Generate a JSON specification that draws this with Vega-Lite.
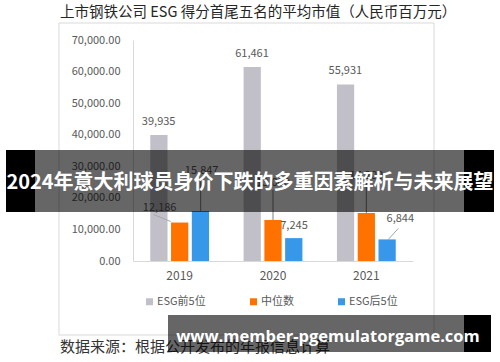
{
  "$schema": "https://vega.github.io/schema/vega-lite/v6.json",
  "autosize": "none",
  "width": 280,
  "height": 221,
  "padding": {"left": 133, "top": 40, "right": 87, "bottom": 101},
  "background": "white",
  "config": {"view": {"stroke": null}, "font": "Noto Sans CJK SC"},
  "datasets": {
    "bars": [
      {"year": "2019", "series": "ESG前5位", "value": 39935},
      {"year": "2019", "series": "中位数", "value": 12186},
      {"year": "2019", "series": "ESG后5位", "value": 15847},
      {"year": "2020", "series": "ESG前5位", "value": 61461},
      {"year": "2020", "series": "中位数", "value": 13000},
      {"year": "2020", "series": "ESG后5位", "value": 7245},
      {"year": "2021", "series": "ESG前5位", "value": 55931},
      {"year": "2021", "series": "中位数", "value": 15200},
      {"year": "2021", "series": "ESG后5位", "value": 6844}
    ],
    "one": [{"k": 1}]
  },
  "data": {"name": "bars"},
  "encoding": {
    "x": {"field": "year", "type": "nominal", "scale": {"paddingInner": 0.37, "paddingOuter": 0.185},
          "axis": {"title": null, "labelAngle": 0, "ticks": false, "domainColor": "#d9d9d9", "labelColor": "#595959", "labelFontSize": 12, "labelPadding": 9}},
    "y": {"field": "value", "type": "quantitative", "scale": {"domain": [0, 70000], "nice": false},
          "axis": {"title": null, "values": [0, 10000, 20000, 30000, 40000, 50000, 60000, 70000], "format": ",.2f", "grid": false, "ticks": false, "labelOverlap": false, "domainColor": "#d9d9d9", "labelColor": "#595959", "labelFontSize": 11, "labelPadding": 13}}
  },
  "layer": [
    {
      "data": {"name": "one"},
      "mark": {"type": "rect", "fill": "transparent", "stroke": "#d9d9d9", "strokeWidth": 1},
      "encoding": {"x": {"value": -74}, "x2": {"value": 301}, "y": {"value": -17}, "y2": {"value": 295}}
    },
    {
      "mark": {"type": "bar"},
      "encoding": {
        "xOffset": {"field": "series", "type": "nominal", "scale": {"domain": ["ESG前5位", "中位数", "ESG后5位"], "paddingInner": 0.17, "paddingOuter": 0}},
        "color": {"field": "series", "type": "nominal",
                  "scale": {"domain": ["ESG前5位", "中位数", "ESG后5位"], "range": ["#c1c0c9", "#ff7200", "#3797e8"]},
                  "legend": {"title": null, "orient": "none", "direction": "horizontal", "gridAlign": "each", "legendX": 11, "legendY": 256, "symbolType": "square", "symbolSize": 49, "symbolStrokeWidth": 0, "labelFontSize": 11, "labelColor": "#595959", "labelOffset": 2, "columnPadding": 42}}
      }
    },
    {
      "transform": [{"filter": "(datum.series == '中位数' && datum.year == '2019')"}],
      "mark": {"type": "rule", "color": "#a6a6a6", "strokeWidth": 1, "xOffset": -9, "x2Offset": -26, "yOffset": -1, "y2Offset": -8},
      "encoding": {"x2": {"field": "year", "bandPosition": 0.5}, "y2": {"field": "value"}}
    },
    {
      "transform": [{"filter": "(datum.series == 'ESG后5位' && datum.year == '2021')"}],
      "mark": {"type": "rule", "color": "#a6a6a6", "strokeWidth": 1, "xOffset": 22, "x2Offset": 32, "yOffset": 0, "y2Offset": -11},
      "encoding": {"x2": {"field": "year", "bandPosition": 0.5}, "y2": {"field": "value"}}
    },
    {
      "transform": [{"filter": "(datum.series == 'ESG后5位' && datum.year == '2019')"}],
      "mark": {"type": "rule", "color": "#7f7f7f", "strokeWidth": 1, "xOffset": 21, "x2Offset": 21, "yOffset": 0, "y2Offset": -33},
      "encoding": {"x2": {"field": "year", "bandPosition": 0.5}, "y2": {"field": "value"}}
    },
    {
      "transform": [{"filter": "(datum.series == '中位数' && datum.year != '2019')"}],
      "mark": {"type": "rule", "color": "#7f7f7f", "strokeWidth": 1, "xOffset": 0, "x2Offset": 0, "yOffset": 0, "y2Offset": -30},
      "encoding": {"x2": {"field": "year", "bandPosition": 0.5}, "y2": {"field": "value"}}
    },
    {
      "transform": [{"filter": "datum.series == 'ESG前5位'"}],
      "mark": {"type": "text", "fontSize": 11, "color": "#595959", "baseline": "middle", "xOffset": -21, "yOffset": -13},
      "encoding": {"text": {"field": "value", "type": "quantitative", "format": ","}}
    },
    {
      "transform": [{"filter": "(datum.series == 'ESG后5位' && datum.year == '2020')"}],
      "mark": {"type": "text", "fontSize": 11, "color": "#595959", "baseline": "middle", "xOffset": 21, "yOffset": -12},
      "encoding": {"text": {"field": "value", "type": "quantitative", "format": ","}}
    },
    {
      "transform": [{"filter": "(datum.series == '中位数' && datum.year == '2019')"}],
      "mark": {"type": "text", "fontSize": 11, "color": "#595959", "baseline": "middle", "xOffset": -20, "yOffset": -15},
      "encoding": {"text": {"field": "value", "type": "quantitative", "format": ","}}
    },
    {
      "transform": [{"filter": "(datum.series == 'ESG后5位' && datum.year == '2019')"}],
      "mark": {"type": "text", "fontSize": 11, "color": "#595959", "baseline": "middle", "xOffset": 22, "yOffset": -40},
      "encoding": {"text": {"field": "value", "type": "quantitative", "format": ","}}
    },
    {
      "transform": [{"filter": "(datum.series == 'ESG后5位' && datum.year == '2021')"}],
      "mark": {"type": "text", "fontSize": 11, "color": "#595959", "baseline": "middle", "xOffset": 34, "yOffset": -20},
      "encoding": {"text": {"field": "value", "type": "quantitative", "format": ","}}
    },
    {
      "transform": [{"filter": "(datum.series == '中位数' && datum.year != '2019')"}],
      "mark": {"type": "text", "fontSize": 11, "color": "#595959", "baseline": "middle", "xOffset": 0, "yOffset": -37},
      "encoding": {"text": {"field": "value", "type": "quantitative", "format": ","}}
    },
    {
      "data": {"name": "one"},
      "mark": {"type": "text", "text": "上市钢铁公司 ESG 得分首尾五名的平均市值（人民币百万元）", "fontSize": 14.5, "color": "#262626", "align": "left", "baseline": "middle"},
      "encoding": {"x": {"value": -73}, "y": {"value": -27}}
    },
    {
      "data": {"name": "one"},
      "mark": {"type": "text", "text": "数据来源：根据公开发布的年报信息计算", "fontSize": 15, "color": "#333333", "align": "left", "baseline": "middle"},
      "encoding": {"x": {"value": -73}, "y": {"value": 307}}
    },
    {
      "data": {"name": "one"},
      "mark": {"type": "rect", "fill": "#000000", "opacity": 0.6},
      "encoding": {"x": {"value": -98}, "x2": {"value": 331}, "y": {"value": 110}, "y2": {"value": 172}}
    },
    {
      "data": {"name": "one"},
      "mark": {"type": "rect", "fill": "#000000"},
      "encoding": {"x": {"value": -127}, "x2": {"value": -98}, "y": {"value": 110}, "y2": {"value": 172}}
    },
    {
      "data": {"name": "one"},
      "mark": {"type": "rect", "fill": "#000000"},
      "encoding": {"x": {"value": 331}, "x2": {"value": 361}, "y": {"value": 110}, "y2": {"value": 172}}
    },
    {
      "data": {"name": "one"},
      "mark": {"type": "text", "text": "2024年意大利球员身价下跌的多重因素解析与未来展望", "fontSize": 20, "fontWeight": "bold", "color": "#ffffff", "align": "center", "baseline": "middle"},
      "encoding": {"x": {"value": 117}, "y": {"value": 143}}
    },
    {
      "data": {"name": "one"},
      "mark": {"type": "rect", "fill": "#000000", "opacity": 0.6},
      "encoding": {"x": {"value": 35}, "x2": {"value": 331}, "y": {"value": 275}, "y2": {"value": 312}}
    },
    {
      "data": {"name": "one"},
      "mark": {"type": "rect", "fill": "#000000"},
      "encoding": {"x": {"value": 331}, "x2": {"value": 358}, "y": {"value": 275}, "y2": {"value": 312}}
    },
    {
      "data": {"name": "one"},
      "mark": {"type": "text", "text": "www.member-pgemulatorgame.com", "font": "Open Sans", "fontSize": 16.5, "fontWeight": "bold", "color": "#ffffff", "align": "center", "baseline": "middle"},
      "encoding": {"x": {"value": 195}, "y": {"value": 297}}
    }
  ]
}
